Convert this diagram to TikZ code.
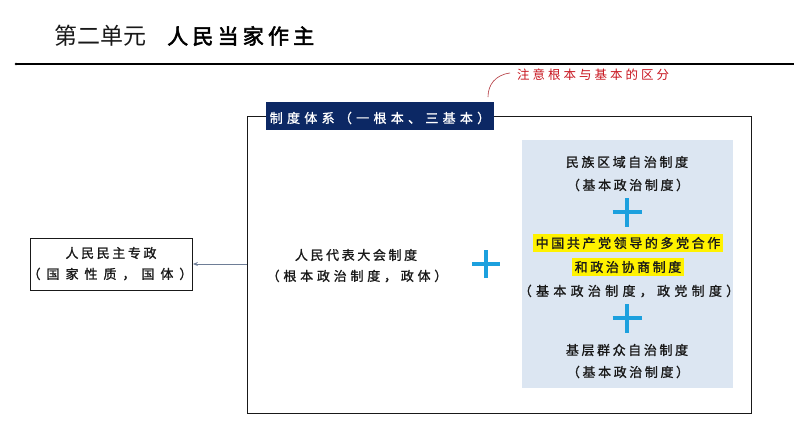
\documentclass[tikz,border=0pt]{standalone}
\usepackage{fontspec}
\setmainfont{Noto Sans CJK SC}
\newfontfamily\bodyf[LetterSpace=20,FakeBold=1.2]{Noto Sans CJK SC}
\newfontfamily\parenA[LetterSpace=46,FakeBold=1.2]{Noto Sans CJK SC}
\newfontfamily\parenB[LetterSpace=29,FakeBold=1.2]{Noto Sans CJK SC}
\newfontfamily\parenC[LetterSpace=33,FakeBold=1.2]{Noto Sans CJK SC}
\newfontfamily\notef[LetterSpace=24]{Noto Sans CJK SC}
\newfontfamily\titlef{Noto Sans CJK SC}
\newfontfamily\titleb[FakeBold=2.5,LetterSpace=20]{Noto Sans CJK SC}
\usetikzlibrary{arrows.meta}
\definecolor{navy}{RGB}{12,40,100}
\definecolor{lightbox}{RGB}{220,230,242}
\definecolor{plusblue}{RGB}{28,160,222}
\definecolor{redtxt}{RGB}{200,20,30}
\definecolor{txt}{RGB}{25,25,25}
\definecolor{arrowgray}{RGB}{110,125,150}
\begin{document}
\begin{tikzpicture}[x=1pt,y=-1pt,
  body/.style={font=\bodyf\fontsize{13}{15}\selectfont, text=txt, inner sep=0pt, anchor=center},
  hl/.style={body, fill=yellow, inner xsep=2.5pt, inner ysep=3pt},
  plusline/.style={draw=plusblue, line width=4.2pt},
  frame/.style={draw=txt, line width=1.1pt}]
\useasboundingbox (0,0) rectangle (794,447);
\fill[white] (0,0) rectangle (794,447);
% title
\node[anchor=west, inner sep=0pt, font=\titlef\fontsize{23}{26}\selectfont, text=txt] (t1) at (54,36) {第二单元};
\node[anchor=west, inner sep=0pt, font=\titleb\fontsize{21}{24}\selectfont, text=black] (t2) at (167,36) {人民当家作主};
\coordinate (l1) at (16,64);
\coordinate (l2) at (794,64);
\draw[line width=1.1pt, black] (l1) -- (l2);
\fill[black] (l1) circle (1.3pt);
% big frame
\node[frame, minimum width=504pt, minimum height=297pt, anchor=north west, inner sep=0pt] (big) at (247,116) {};
% label box
\node[fill=navy, minimum width=228pt, minimum height=28pt, anchor=north west, inner sep=0pt] (lab) at (266,102) {};
\node[font=\parenC\fontsize{13}{15}\selectfont, text=white, inner sep=0pt] (labt) at (380,118) {制度体系（一根本、三基本）};
% red note
\node[font=\notef\fontsize{12.5}{14}\selectfont, text=redtxt, inner sep=0pt, anchor=west] (note) at (517,75) {注意根本与基本的区分};
\coordinate (c1) at (510,73);
\coordinate (c2) at (488,97);
\draw[redtxt!70!gray, line width=0.6pt] (c1) .. controls (495,75) and (488,85) .. (c2);
% left box
\node[draw=txt, line width=0.9pt, minimum width=162pt, minimum height=52pt, anchor=north west, inner sep=0pt] (left) at (30,238) {};
\node[body] (lt1) at (111,253) {人民民主专政};
\node[body, font=\parenA\fontsize{13}{15}\selectfont] (lt2) at (110,274) {（国家性质，国体）};
\coordinate (arrS) at (247,264);
\draw[-{Stealth[length=5pt,width=4pt]}, arrowgray, line width=0.9pt] (arrS) -- (left.east |- arrS);
% middle
\node[body] (m1) at (356,255) {人民代表大会制度};
\node[body, font=\parenB\fontsize{13}{15}\selectfont] (m2) at (357,276) {（根本政治制度，政体）};
% plus
\coordinate (p0) at (486,264);
\draw[plusline] ([xshift=-14pt]p0) -- ([xshift=14pt]p0);
\draw[plusline] ([yshift=-14pt]p0) -- ([yshift=14pt]p0);
% light box
\node[fill=lightbox, minimum width=211pt, minimum height=248pt, anchor=north west, inner sep=0pt] (lb) at (522,140) {};
\node[body] (r1) at (627,162) {民族区域自治制度};
\node[body] (r2) at (628,185) {（基本政治制度）};
\coordinate (p1) at (627,212);
\draw[plusline] ([xshift=-14.5pt]p1) -- ([xshift=14.5pt]p1);
\draw[plusline] ([yshift=-14.5pt]p1) -- ([yshift=14.5pt]p1);
\node[hl] (r3) at (628,243) {中国共产党领导的多党合作};
\node[hl] (r4) at (628,267) {和政治协商制度};
\node[body, font=\parenC\fontsize{13}{15}\selectfont] (r5) at (629,291) {（基本政治制度，政党制度）};
\coordinate (p2) at (627,318);
\draw[plusline] ([xshift=-14.5pt]p2) -- ([xshift=14.5pt]p2);
\draw[plusline] ([yshift=-14.5pt]p2) -- ([yshift=14.5pt]p2);
\node[body] (r6) at (627,350) {基层群众自治制度};
\node[body] (r7) at (628,372) {（基本政治制度）};
\end{tikzpicture}
\end{document}
